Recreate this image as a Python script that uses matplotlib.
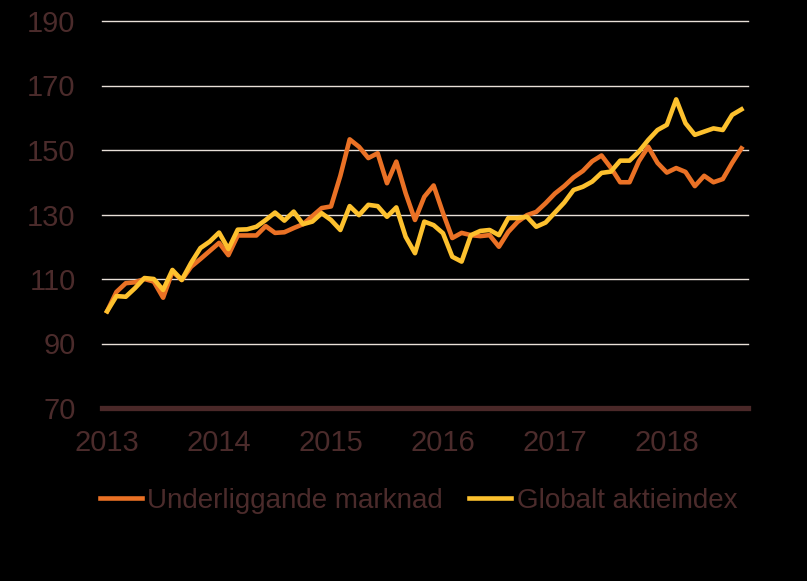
import matplotlib
matplotlib.use("Agg")
import matplotlib.pyplot as plt

# monthly index values, Jan 2013 .. Sep 2018
underliggande = [100, 106, 108.7, 109, 110, 109.2, 104.2, 112.3, 109.7, 113.8, 116.2, 118.7,
                 121.2, 117.4, 123.5, 123.5, 123.5, 126.4, 124.3, 124.5, 125.8, 127, 129.5, 132,
                 132.5, 142, 153.3, 151, 147.5, 149, 139.7, 146.4, 136.6, 128.3, 135.5, 139,
                 130.5, 122.7, 124.3, 123.6, 123.3, 123.6, 120, 124.6, 127.7, 129.8, 130.8, 133.5,
                 136.5, 138.8, 141.5, 143.5, 146.5, 148.3, 144.5, 140, 140, 146.5, 151, 146,
                 143, 144.4, 143.2, 138.8, 142, 140, 141, 146, 150.5]
globalt = [100, 104.7, 104.5, 107.2, 110.3, 110, 106.6, 112.8, 109.7, 115, 119.6, 121.6,
           124.4, 119.3, 125.3, 125.4, 126.2, 128.3, 130.6, 128.1, 130.9, 127, 127.8, 130.4,
           128.3, 125.2, 132.6, 129.8, 133, 132.6, 129.3, 132.2, 123.1, 118, 127.8, 126.7,
           124.2, 116.9, 115.4, 123.6, 124.9, 125.2, 123.6, 128.9, 128.9, 129.3, 126.2, 127.5,
           130.6, 133.7, 137.6, 138.6, 140.2, 142.9, 143.3, 146.7, 146.7, 149.5, 153.1, 156.2,
           157.8, 165.7, 158.3, 154.7, 155.7, 156.7, 156.2, 160.9, 162.6]
years = ["2013", "2014", "2015", "2016", "2017", "2018"]
yticks = [70, 90, 110, 130, 150, 170, 190]

txt = "#4b2b2b"
plt.rcParams['font.family'] = ['Liberation Sans', 'DejaVu Sans']

fig = plt.figure(figsize=(8.07, 5.81), dpi=100, facecolor="black")
ax = fig.add_axes([102 / 807, 1 - 408 / 581, 646 / 807, 387 / 581], facecolor="black")

x = list(range(len(underliggande)))
for yv in yticks[1:]:
    ax.axhline(yv, color="#e8e0d8", lw=1.0, zorder=1, clip_on=False)
ax.axhline(70, color="#4a2828", lw=3.8, zorder=2, clip_on=False)

ax.plot(x, underliggande, color="#ea7125", lw=3.3, solid_joinstyle="round",
        label="Underliggande marknad", zorder=3)
ax.plot(x, globalt, color="#fdc12e", lw=3.3, solid_joinstyle="round",
        label="Globalt aktieindex", zorder=4)

ax.set_xlim(-0.55, 68.7)
ax.set_ylim(70, 190)
ax.set_xticks([12 * i for i in range(len(years))])
ax.set_xticklabels(years)
ax.set_yticks(yticks)
ax.tick_params(length=0, labelsize=21, colors=txt)
ax.tick_params(axis="x", pad=15)
ax.tick_params(axis="y", pad=19)
for s in ax.spines.values():
    s.set_visible(False)

leg = ax.legend(loc="center", bbox_to_anchor=(0.49, -0.24), ncol=2, frameon=False,
                fontsize=20, handlelength=1.5, handletextpad=0.2, columnspacing=0.95)
for t in leg.get_texts():
    t.set_color(txt)

fig.savefig("out.png", dpi=100, facecolor="black")
